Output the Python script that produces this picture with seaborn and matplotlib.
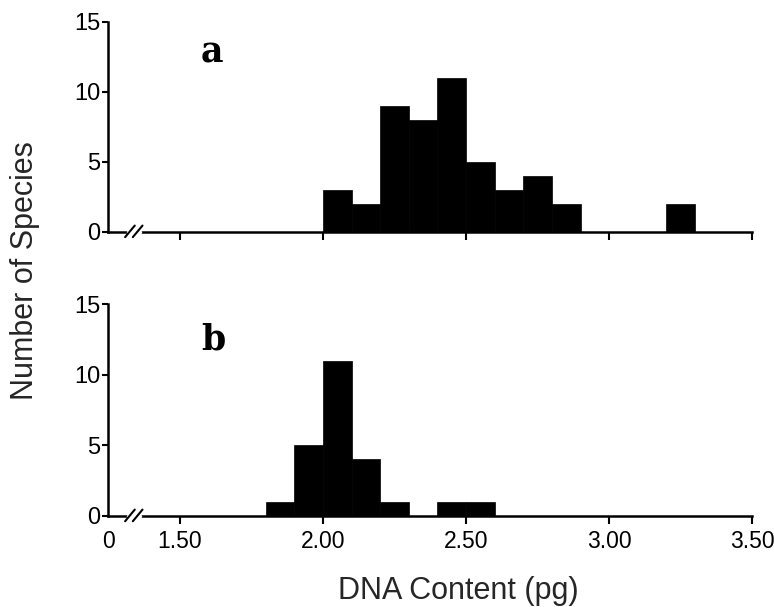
import numpy as np
import pandas as pd
import matplotlib
matplotlib.use("Agg")
import matplotlib.pyplot as plt
import seaborn as sns

# Bin centers (pg) and counts
bins_a = [2.05, 2.15, 2.25, 2.35, 2.45, 2.55, 2.65, 2.75, 2.85, 3.25]
counts_a = [3, 2, 9, 8, 11, 5, 3, 4, 2, 2]
bins_b = [1.85, 1.95, 2.05, 2.15, 2.25, 2.45, 2.55]
counts_b = [1, 5, 11, 4, 1, 1, 1]
xtick_vals = [1.25, 1.5, 2.0, 2.5, 3.0, 3.5]
xtick_labels = ["0", "1.50", "2.00", "2.50", "3.00", "3.50"]
yticks = [0, 5, 10, 15]

sns.set_theme(style="ticks")
plt.rcParams['font.family'] = ['Liberation Sans', 'DejaVu Sans']

fig = plt.figure(figsize=(7.74, 6.07), dpi=100)
ax_a = fig.add_axes([0.14, 0.618, 0.832, 0.346])
ax_b = fig.add_axes([0.14, 0.150, 0.832, 0.349])

for ax, centers, counts, lab, ly in [(ax_a, bins_a, counts_a, "a", 12.1),
                                     (ax_b, bins_b, counts_b, "b", 11.8)]:
    df = pd.DataFrame({"x": centers, "w": counts})
    sns.histplot(data=df, x="x", weights="w", binwidth=0.1, binrange=(1.8, 3.3), ax=ax,
                 color="black", edgecolor="black", alpha=1, linewidth=0.5)
    ax.set_xlim(1.25, 3.5)
    ax.set_ylim(0, 15)
    ax.set_yticks(yticks)
    ax.set_yticklabels([str(v) for v in yticks], fontsize=17)
    ax.set_xticks(xtick_vals)
    ax.set_xlabel("")
    ax.set_ylabel("")
    for s in ["top", "right"]:
        ax.spines[s].set_visible(False)
    for s in ["left", "bottom"]:
        ax.spines[s].set_linewidth(1.8)
        ax.spines[s].set_color("black")
    ax.tick_params(axis="y", direction="out", length=4, width=1.5, colors="black", pad=2)
    ax.tick_params(axis="x", direction="out", length=6, width=1.5, colors="black", pad=4)
    ax.xaxis.get_major_ticks()[0].tick1line.set_visible(False)
    ax.text(1.573, ly, lab, fontsize=25, fontweight="bold", family="DejaVu Serif",
            color="black", va="baseline")
    # axis break marks
    ax.plot([0.030, 0.049], [0.0, 0.0], transform=ax.transAxes, color="white",
            lw=2.5, clip_on=False, zorder=3)
    for dx in [0.0, 0.012]:
        ax.plot([0.026 + dx, 0.041 + dx], [-0.025, 0.03], transform=ax.transAxes,
                color="black", lw=1.5, clip_on=False, zorder=4)

ax_a.set_xticklabels([""] * len(xtick_vals))
ax_b.set_xticklabels(xtick_labels, fontsize=16.5)
fig.text(0.592, 0.026, "DNA Content (pg)", fontsize=22, ha="center", va="center")
fig.text(0.032, 0.555, "Number of Species", rotation=90, fontsize=22,
         ha="center", va="center")

fig.savefig("out.png", dpi=100, facecolor="white")
